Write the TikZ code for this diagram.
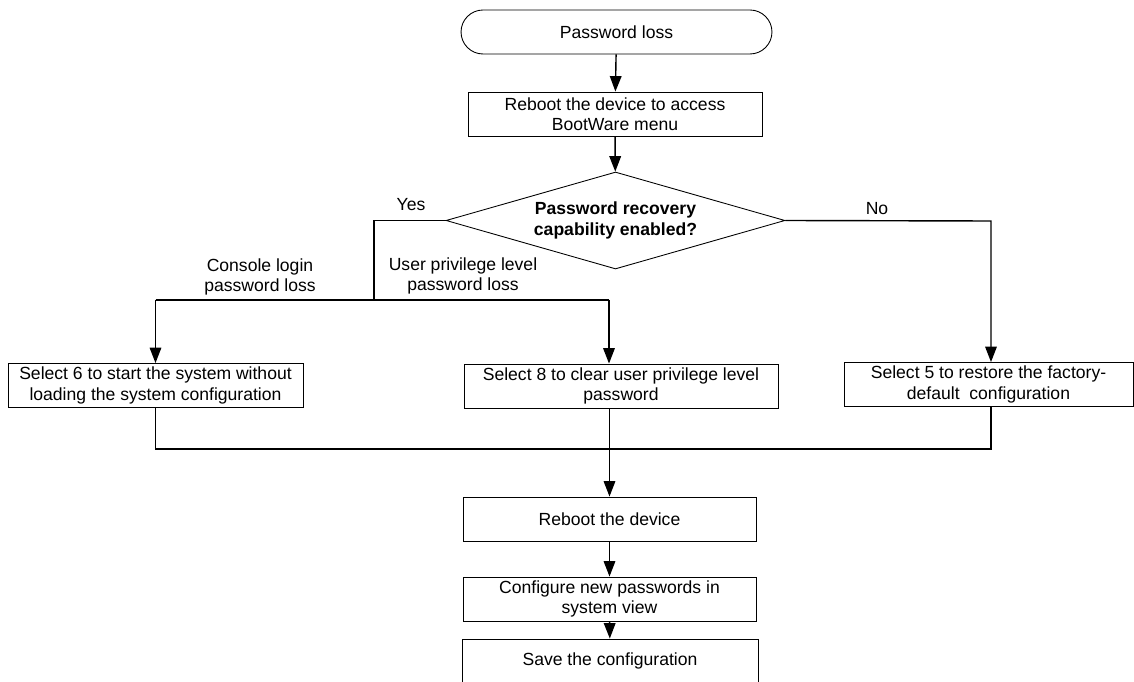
\documentclass[tikz,border=0pt]{standalone}
\usepackage{fontspec}
\setmainfont{Liberation Sans}
\usetikzlibrary{shapes.geometric,arrows.meta}
\tikzset{
  box/.style={draw, line width=0.5pt, inner sep=0pt, align=center, minimum height=0.88cm},
  flow/.style={line width=0.8pt},
  arr/.style={flow, -{Triangle[length=8.8pt,width=6.6pt]}},
}
\begin{document}
\begin{tikzpicture}[x=0.02cm,y=-0.02cm,font=\fontsize{10}{11.5}\selectfont]
\useasboundingbox (0,0) rectangle (1134,682);

\node[box, rounded corners=0.44cm, minimum width=6.22cm] (loss) at (616.5,32) {Password loss};
\node[box, minimum width=5.88cm] (boot) at (615,114) {Reboot the device to access\\BootWare menu};
\node[draw, diamond, line width=0.5pt, inner sep=0pt, aspect=3.4, minimum width=6.78cm, minimum height=1.94cm,
  align=center, font=\fontsize{10}{11.5}\selectfont\bfseries] (check) at (615.5,220.5) {Password recovery\\capability enabled?};

\node (yes) at (411,205) {Yes};
\node (no) at (877,209) {No};
\node[align=center] (conlbl) at (260,277) {Console login\\password loss};
\node[align=center] (usrlbl) at (463,276) {User privilege level\\password loss};

\node[box, minimum width=5.9cm] (sel6) at (155.5,385.5) {Select 6 to start the system without\\loading the system configuration};
\node[box, minimum width=6.28cm] (sel8) at (621,386) {Select 8 to clear user privilege level\\password};
\node[box, minimum width=5.78cm] (sel5) at (988.5,384.5) {Select 5 to restore the factory-\\default~ configuration};

\node[box, minimum width=5.86cm] (reboot) at (609.5,519) {Reboot the device};
\node[box, minimum width=5.86cm] (newpw) at (609.5,599) {Configure new passwords in\\system view};
\node[box, minimum width=5.92cm] (save) at (610,661) {Save the configuration};

% branch points
\coordinate (yb) at (374,300);
\coordinate (yl) at (155.5,300);
\coordinate (yr) at (609,300);
\coordinate (nb) at (991,221);
\coordinate (ml) at (155.5,449);
\coordinate (mr) at (991,449);

\draw[arr] (loss) -- (boot);
\draw[arr] (boot) -- (check);
\draw[flow] (check.west) -| (yb);
\draw[flow] (yl) -- (yr);
\draw[arr] (yl) -- (sel6);
\draw[arr] (yr) -- (yr |- sel8.north);
\draw[arr] (check.east) -- (nb) -- (nb |- sel5.north);

\draw[flow] (sel6.south) -- (ml) -- (mr) -- (mr |- sel5.south);
\draw[arr] (reboot |- sel8.south) -- (reboot);
\draw[arr] (reboot) -- (newpw);
\draw[arr] (newpw) -- (save);
\end{tikzpicture}
\end{document}
